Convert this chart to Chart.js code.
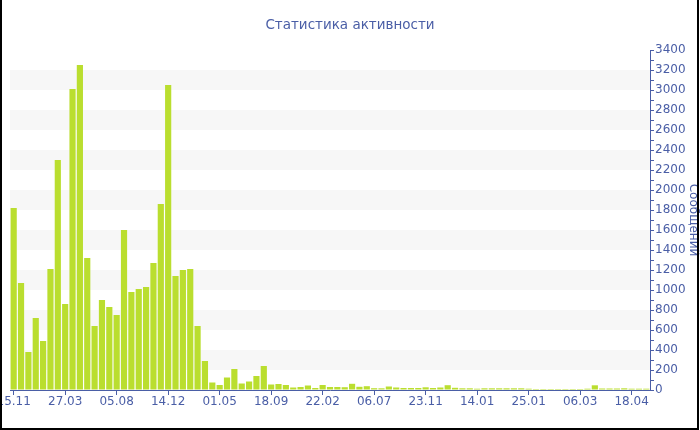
<!DOCTYPE html>
<html lang="ru">
<head>
<meta charset="utf-8">
<title>Статистика активности</title>
<script src="https://cdn.jsdelivr.net/npm/chart.js@4/dist/chart.umd.min.js"></script>
<style>
    html, body { margin: 0; padding: 0; background: #fff; }
    #wrap { position: relative; width: 700px; height: 430px; }
</style>
</head>
<body>
<div id="wrap"><canvas id="activityChart" width="700" height="430"></canvas></div>
<script>
// подписи оси X (каждый 7-й столбец)
const tickLabels = ['15.11', '27.03', '05.08', '14.12', '01.05', '18.09', '22.02',
    '06.07', '23.11', '14.01', '25.01', '06.03', '18.04'];

// количество сообщений по периодам
const messages = [
    1820, 1070, 380, 720, 490, 1210, 2300, 860, 3010, 3250,
    1320, 640, 900, 830, 750, 1600, 980, 1010, 1030, 1270,
    1860, 3050, 1140, 1200, 1210, 640, 290, 75, 50, 125,
    210, 65, 85, 140, 240, 55, 60, 50, 25, 30,
    45, 20, 50, 30, 30, 28, 62, 32, 38, 18,
    17, 35, 25, 20, 20, 20, 27, 20, 25, 48,
    22, 17, 17, 13, 17, 17, 17, 17, 17, 17,
    13, 10, 10, 10, 10, 10, 10, 10, 13, 47,
    15, 15, 15, 17, 13, 13, 13
];

const yTicks = { min: 0, max: 3400, major: 200, minor: 100 };

const categories = messages.map((v, i) => (i % 7 === 0 ? tickLabels[i / 7] : ''));

const textColor = '#4a5ea6';
const axisColor = '#4a5ea6';

// светлые полосы фона
const bandsPlugin = {
    id: 'bands',
    beforeDatasetsDraw(chart) {
        const { ctx, chartArea, scales } = chart;
        const y = scales.y;
        ctx.save();
        ctx.fillStyle = '#f7f7f7';
        for (let v = yTicks.major; v < yTicks.max; v += yTicks.major * 2) {
            const top = y.getPixelForValue(v + yTicks.major);
            const bottom = y.getPixelForValue(v);
            ctx.fillRect(chartArea.left, top, chartArea.right - chartArea.left, bottom - top);
        }
        ctx.restore();
    }
};

// рамка вокруг графика
const framePlugin = {
    id: 'frame',
    afterDraw(chart) {
        const ctx = chart.ctx;
        ctx.save();
        ctx.strokeStyle = '#000';
        ctx.lineWidth = 2;
        ctx.strokeRect(1, -5, 697, 434);
        ctx.restore();
    }
};

Chart.defaults.font.family = '"DejaVu Sans", Verdana, sans-serif';
Chart.defaults.font.size = 12;
Chart.defaults.color = textColor;

new Chart(document.getElementById('activityChart'), {
    type: 'bar',
    data: {
        labels: categories,
        datasets: [{
            label: 'Сообщений',
            data: messages,
            xAxisID: 'x',
            yAxisID: 'y',
            backgroundColor: '#bade2f',
            borderWidth: 0,
            barPercentage: 0.84,
            categoryPercentage: 1
        }]
    },
    options: {
        responsive: false,
        animation: false,
        layout: { padding: 0 },
        plugins: {
            legend: { display: false },
            tooltip: { enabled: false },
            title: {
                display: true,
                text: 'Статистика активности',
                color: textColor,
                font: { size: 13.5, weight: 'normal' },
                padding: { top: 17, bottom: 16.8 }
            }
        },
        scales: {
            x: {
                offset: true,
                grid: { display: true, drawOnChartArea: false, offset: false, tickLength: 5, color: axisColor },
                border: { display: true, color: axisColor, width: 1 },
                ticks: { autoSkip: false, maxRotation: 0, padding: 0, color: textColor },
                afterBuildTicks(scale) {
                    scale.ticks = scale.ticks.filter(t => t.value % 7 === 0);
                },
                afterFit(scale) {
                    scale.height = 40;
                    scale.paddingLeft = 0;
                    scale.paddingRight = 0;
                }
            },
            // пустая левая ось — только отступ 10px
            spacer: {
                type: 'linear',
                position: 'left',
                min: 0,
                max: 1,
                grid: { display: false },
                border: { display: false },
                ticks: { display: false },
                afterFit(scale) {
                    scale.width = 10;
                }
            },
            y: {
                position: 'right',
                min: yTicks.min,
                max: yTicks.max,
                grid: { display: true, drawOnChartArea: false, tickLength: 4, color: axisColor },
                border: { display: true, color: axisColor, width: 1 },
                ticks: {
                    stepSize: yTicks.minor,
                    autoSkip: false,
                    padding: 1,
                    color: textColor,
                    callback: v => (v % yTicks.major === 0 ? v : '')
                },
                title: {
                    display: true,
                    text: 'Сообщений',
                    color: textColor,
                    font: { size: 12 },
                    padding: 0
                },
                afterFit(scale) {
                    scale.width = 50;
                }
            }
        }
    },
    plugins: [bandsPlugin, framePlugin]
});
</script>
</body>
</html>
